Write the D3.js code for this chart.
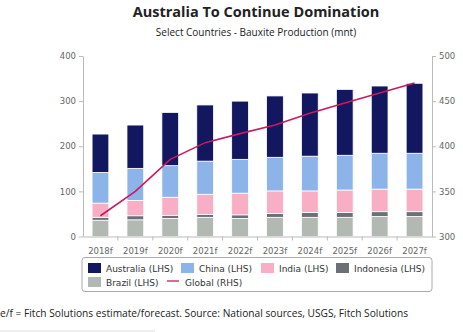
<!DOCTYPE html>
<html>
<head>
<meta charset="utf-8">
<script src="https://cdn.jsdelivr.net/npm/d3@7"></script>
<style>
  body { margin: 0; background: #fff; }
  svg { display: block; }
</style>
</head>
<body>
<div id="chart"></div>
<script>
const years = ['2018f', '2019f', '2020f', '2021f', '2022f', '2023f', '2024f', '2025f', '2026f', '2027f'];
const brazil = [36, 37, 40, 42.5, 40, 42.5, 42.5, 42.5, 44.5, 44.5];
const indonesia = [6.5, 9, 7, 6.5, 8, 8.5, 10.5, 10.5, 10.5, 10.5];
const india = [31.5, 34, 40, 44.5, 48, 50, 48, 50, 50, 50];
const china = [68, 71, 70, 73.5, 75, 74.5, 77, 77, 79.5, 79.5];
const australia = [85, 96, 118, 124.5, 129, 136, 140, 146, 149, 155];
const globalRhs = [323, 350, 385.5, 404, 414, 423.5, 436.5, 448, 459, 470];
const leftTicks = [0, 100, 200, 300, 400];
const rightTicks = [300, 350, 400, 450, 500];

const width = 463;
const height = 332;
const margin = { top: 56, right: 31, bottom: 95.5, left: 83 };

// stacking order from the bottom up
const series = [
  { key: 'Brazil', values: brazil, color: '#b2b9b3' },
  { key: 'Indonesia', values: indonesia, color: '#6b6f76' },
  { key: 'India', values: india, color: '#f8aec4' },
  { key: 'China', values: china, color: '#8db4e9' },
  { key: 'Australia', values: australia, color: '#121760' },
];
const lineColor = '#c9195f';

const rows = years.map((year, i) => {
  const row = { year };
  series.forEach(s => { row[s.key] = s.values[i]; });
  return row;
});

const stacked = d3.stack().keys(series.map(s => s.key))(rows);

const x = d3.scaleBand()
  .domain(years)
  .range([margin.left, width - margin.right])
  .paddingInner(0.52)
  .paddingOuter(0.26);

const yLeft = d3.scaleLinear()
  .domain([0, 400])
  .range([height - margin.bottom, margin.top]);

const yRight = d3.scaleLinear()
  .domain([300, 500])
  .range([height - margin.bottom, margin.top]);

const svg = d3.select('#chart')
  .append('svg')
  .attr('width', width)
  .attr('height', height);

// titles
svg.append('text')
  .attr('x', 256)
  .attr('y', 17)
  .attr('text-anchor', 'middle')
  .attr('font-family', 'Open Sans')
  .attr('font-weight', 'bold')
  .attr('font-size', 14.5)
  .attr('fill', '#222')
  .text('Australia To Continue Domination');

svg.append('text')
  .attr('x', 256)
  .attr('y', 36)
  .attr('text-anchor', 'middle')
  .attr('font-family', 'Open Sans')
  .attr('font-size', 10)
  .attr('fill', '#222')
  .text('Select Countries - Bauxite Production (mnt)');

// bars
svg.append('g')
  .selectAll('g')
  .data(stacked)
  .enter()
  .append('g')
  .attr('fill', (d, i) => series[i].color)
  .selectAll('rect')
  .data(d => d)
  .enter()
  .append('rect')
  .attr('x', d => x(d.data.year))
  .attr('width', x.bandwidth())
  .attr('y', d => yLeft(d[1]))
  .attr('height', d => yLeft(d[0]) - yLeft(d[1]))
  .attr('stroke', '#fff')
  .attr('stroke-width', 0.8);

// axes
const axisFont = g => g
  .attr('font-family', 'DejaVu Sans')
  .attr('font-size', 8.5)
  .call(a => a.selectAll('text').attr('fill', '#666'))
  .call(a => a.selectAll('line, path').attr('stroke', '#bbb'));

svg.append('g')
  .attr('transform', `translate(${margin.left},0)`)
  .call(d3.axisLeft(yLeft).tickValues(leftTicks).tickSize(4).tickSizeOuter(0).tickPadding(3))
  .call(axisFont);

svg.append('g')
  .attr('transform', `translate(${width - margin.right},0)`)
  .call(d3.axisRight(yRight).tickValues(rightTicks).tickSize(4).tickSizeOuter(0).tickPadding(3))
  .call(axisFont);

const xAxis = svg.append('g')
  .attr('transform', `translate(0,${height - margin.bottom})`)
  .call(d3.axisBottom(x).tickSize(0).tickPadding(11))
  .call(axisFont);

// small separators between categories on the x axis
xAxis.selectAll('.sep')
  .data(years.slice(1))
  .enter()
  .append('line')
  .attr('x1', d => x(d) - x.step() * x.paddingInner() / 2)
  .attr('x2', d => x(d) - x.step() * x.paddingInner() / 2)
  .attr('y1', 0)
  .attr('y2', 4)
  .attr('stroke', '#bbb');

// global line on the right axis
const line = d3.line()
  .x((d, i) => x(years[i]) + x.bandwidth() / 2)
  .y(d => yRight(d));

svg.append('path')
  .datum(globalRhs)
  .attr('d', line)
  .attr('fill', 'none')
  .attr('stroke', lineColor)
  .attr('stroke-width', 1.6);

// legend
const legend = svg.append('g')
  .attr('font-family', 'DejaVu Sans')
  .attr('font-size', 9)
  .attr('fill', '#333');

legend.append('rect')
  .attr('x', 82)
  .attr('y', 257.5)
  .attr('width', 350)
  .attr('height', 34)
  .attr('rx', 3)
  .attr('fill', 'none')
  .attr('stroke', '#aaa');

const legendItems = [
  { label: 'Australia (LHS)', color: series[4].color, x: 88, y: 268 },
  { label: 'China (LHS)', color: series[3].color, x: 181, y: 268 },
  { label: 'India (LHS)', color: series[2].color, x: 261, y: 268 },
  { label: 'Indonesia (LHS)', color: series[1].color, x: 336, y: 268 },
  { label: 'Brazil (LHS)', color: series[0].color, x: 88, y: 282 },
];

legendItems.forEach(item => {
  legend.append('rect')
    .attr('x', item.x)
    .attr('y', item.y - 5)
    .attr('width', 13)
    .attr('height', 10)
    .attr('fill', item.color);
  legend.append('text')
    .attr('x', item.x + 18)
    .attr('y', item.y + 3.5)
    .text(item.label);
});

legend.append('line')
  .attr('x1', 167)
  .attr('x2', 179)
  .attr('y1', 281)
  .attr('y2', 281)
  .attr('stroke', lineColor)
  .attr('stroke-width', 1.3);

legend.append('text')
  .attr('x', 185)
  .attr('y', 285.5)
  .text('Global (RHS)');

// footnote
svg.append('text')
  .attr('x', 0)
  .attr('y', 317)
  .attr('font-family', 'Open Sans')
  .attr('font-size', 10.2)
  .attr('fill', '#222')
  .text('e/f = Fitch Solutions estimate/forecast. Source: National sources, USGS, Fitch Solutions');

svg.append('line')
  .attr('x1', 0)
  .attr('x2', 155)
  .attr('y1', 331)
  .attr('y2', 331)
  .attr('stroke', '#ddd');
</script>
</body>
</html>
